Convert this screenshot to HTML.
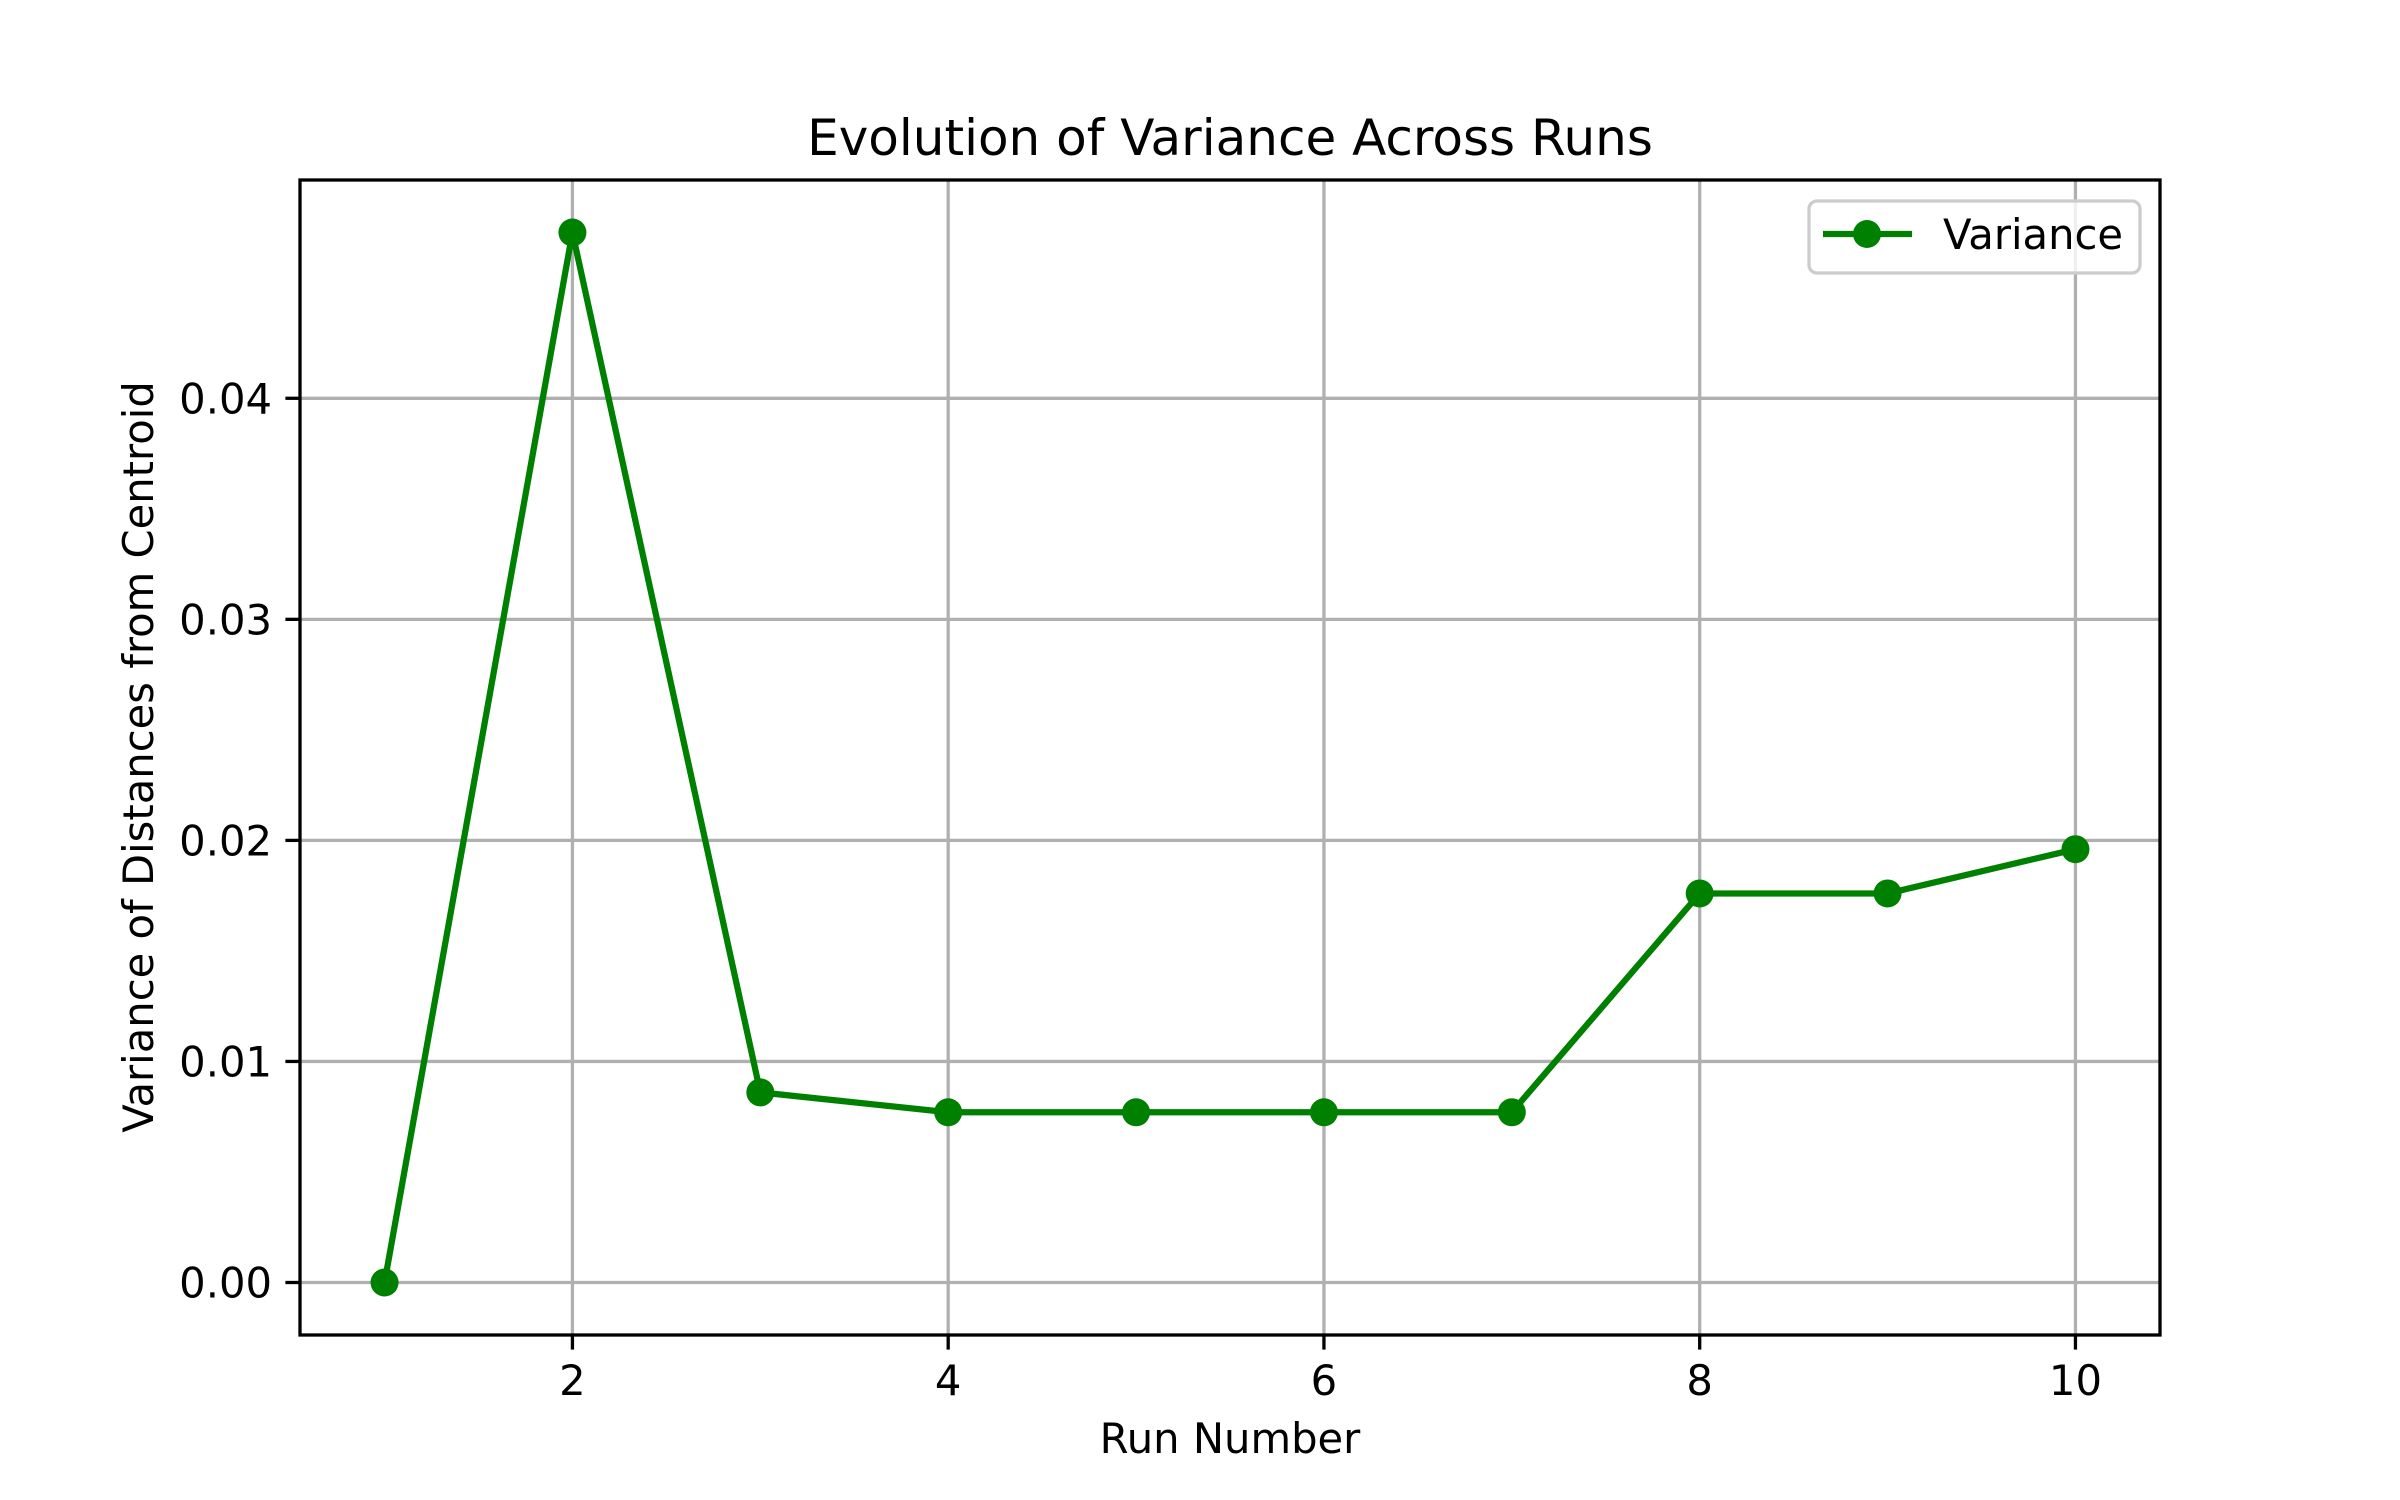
<!DOCTYPE html>
<html><head><meta charset="utf-8"><style>
html,body{margin:0;padding:0;background:#fff}
svg{display:block;font-family:"DejaVu Sans","Liberation Sans",sans-serif}
</style></head><body>
<svg id="chart" width="2400" height="1500" viewBox="0 0 2400 1500" xmlns="http://www.w3.org/2000/svg">
<rect width="2400" height="1500" fill="#fff"/>
<g id="grid"></g>
<g id="series"></g>
<rect x="300" y="180" width="1860" height="1155" fill="none" stroke="#000" stroke-width="3.3"/>
<g id="ticks"></g>
<text x="1230" y="155" font-size="50" text-anchor="middle">Evolution of Variance Across Runs</text>
<text x="1230" y="1453" font-size="41.7" text-anchor="middle">Run Number</text>
<text transform="translate(153,757) rotate(-90)" font-size="41.7" text-anchor="middle">Variance of Distances from Centroid</text>
<g>
<rect x="1809" y="201" width="331" height="72" rx="8" fill="#fff" fill-opacity="0.8" stroke="#ccc" stroke-width="3.3"/>
<line x1="1823" y1="234" x2="1912" y2="234" stroke="#008000" stroke-width="6.25"/>
<circle cx="1867" cy="234" r="14" fill="#008000"/>
<text x="1943" y="249" font-size="41.7">Variance</text>
</g>
</svg>
<script>
const runs = [1,2,3,4,5,6,7,8,9,10];
const variance = [0.0, 0.0475, 0.0086, 0.0077, 0.0077, 0.0077, 0.0077, 0.0176, 0.0176, 0.0196];
const xTicks = [2,4,6,8,10];
const yTicks = [0.00,0.01,0.02,0.03,0.04];
const yTickLabels = ["0.00","0.01","0.02","0.03","0.04"];

const L=300,R=2160,T=180,B=1335;
const xmin=0.55,xmax=10.45;
const ymax0=Math.max(...variance),ymin0=Math.min(...variance);
const pad=(ymax0-ymin0)*0.05;
const ymin=ymin0-pad,ymax=ymax0+pad;
const sx=v=>L+(v-xmin)/(xmax-xmin)*(R-L);
const sy=v=>B-(v-ymin)/(ymax-ymin)*(B-T);
const NS="http://www.w3.org/2000/svg";
function mk(tag,attrs,parent){const e=document.createElementNS(NS,tag);for(const k in attrs)e.setAttribute(k,attrs[k]);parent.appendChild(e);return e;}
const grid=document.getElementById('grid'),ticks=document.getElementById('ticks'),series=document.getElementById('series');
xTicks.forEach(t=>{
  const x=sx(t);
  const g=mk('line',{x1:x,y1:T,x2:x,y2:B,stroke:'#b0b0b0','stroke-width':3.3},grid);
  
  
  const tk=mk('line',{x1:x,y1:B,x2:x,y2:B+14.6,stroke:'#000','stroke-width':3.3},ticks);
  
  
  const tl=mk('text',{x:x,y:B+60,'font-size':41.7,'text-anchor':'middle'},ticks);
  
  
  tl.textContent=String(t);
});
yTicks.forEach((t,i)=>{
  const y=sy(t);
  const g=mk('line',{x1:L,y1:y,x2:R,y2:y,stroke:'#b0b0b0','stroke-width':3.3},grid);
  
  
  const tk=mk('line',{x1:L-14.6,y1:y,x2:L,y2:y,stroke:'#000','stroke-width':3.3},ticks);
  
  
  const tl=mk('text',{x:L-28,y:y+15,'font-size':41.7,'text-anchor':'end'},ticks);
  
  
  tl.textContent=yTickLabels[i];
});
const pts=runs.map((r,i)=>sx(r)+','+sy(variance[i])).join(' ');
const pl=mk('polyline',{points:pts,fill:'none',stroke:'#008000','stroke-width':6.25,'stroke-linejoin':'round','stroke-linecap':'square'},series);


runs.forEach((r,i)=>{
  const c=mk('circle',{cx:sx(r),cy:sy(variance[i]),r:14,fill:'#008000'},series);
  
  
});
</script>
</body></html>
